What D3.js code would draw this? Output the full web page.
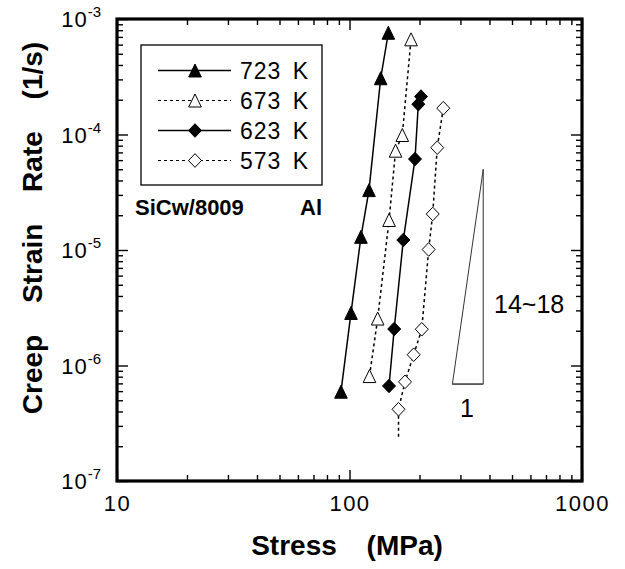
<!DOCTYPE html>
<html><head><meta charset="utf-8">
<script src="https://cdn.jsdelivr.net/npm/d3@7"></script>
<style>
body{margin:0;background:#fff;}
svg{display:block;font-family:"Liberation Sans",Arial,Helvetica,sans-serif;}
</style></head>
<body>
<svg id="chart" width="625" height="569"></svg>
<script>
// ---- data ----
const seriesNames = ["723 K", "673 K", "623 K", "573 K"];
const stress723 = [91.9, 101.5, 112, 121.3, 136.2, 146.9];
const rate723   = [5.93e-7, 2.85e-6, 1.30e-5, 3.30e-5, 3.07e-4, 7.6e-4];
const stress673 = [121.9, 132.2, 148, 157.8, 168.7, 183.9];
const rate673   = [8.1e-7, 2.55e-6, 1.82e-5, 7.24e-5, 9.9e-5, 6.67e-4];
const stress623 = [147.9, 155.7, 170.4, 191.3, 197.7, 203];
const rate623   = [6.65e-7, 2.07e-6, 1.22e-5, 6.13e-5, 1.83e-4, 2.13e-4];
const stress573 = [162.5, 173.3, 188.8, 204.6, 219, 228, 238.4, 253.2];
const rate573   = [4.18e-7, 7.22e-7, 1.24e-6, 2.06e-6, 1.01e-5, 2.05e-5, 7.69e-5, 1.69e-4];
const line573StartStress = [162.5];
const line573StartRate = [2.42e-7];
const slopeStress = [277, 376];
const slopeRate = [6.9e-7, 5.0e-5];
const xTicksMajor = [10, 100, 1000];
const yTicksMajor = [1e-7, 1e-6, 1e-5, 1e-4, 1e-3];
const yTickExponents = ["-7", "-6", "-5", "-4", "-3"];

const svg = d3.select("#chart");
const L = 117, R = 582, T = 19, B = 481;
const x = d3.scaleLog().domain([10, 1000]).range([L, R]);
const y = d3.scaleLog().domain([1e-7, 1e-3]).range([B, T]);

const minorX = x.ticks().filter(v => !xTicksMajor.includes(v));
const minorY = y.ticks().filter(v => !yTicksMajor.some(m => Math.abs(m - v) / v < 1e-6));

function styleAxis(g) {
  g.select(".domain").remove();
  g.selectAll(".tick line").attr("stroke", "#000").attr("stroke-width", 1.4);
}
// bottom
svg.append("g").attr("transform", `translate(0,${B})`)
  .call(d3.axisBottom(x).tickValues(minorX).tickSize(-6).tickFormat("")).call(styleAxis);
svg.append("g").attr("transform", `translate(0,${B})`)
  .call(d3.axisBottom(x).tickValues(xTicksMajor).tickSize(-11).tickPadding(14).tickFormat(d3.format("d")))
  .call(styleAxis)
  .call(g => g.selectAll(".tick text").attr("font-size", 22).attr("letter-spacing", 1.5).attr("fill", "#000")
     .attr("font-family", "Liberation Sans, Arial, sans-serif"));
// top
svg.append("g").attr("transform", `translate(0,${T})`)
  .call(d3.axisTop(x).tickValues(minorX).tickSize(-6).tickFormat("")).call(styleAxis);
svg.append("g").attr("transform", `translate(0,${T})`)
  .call(d3.axisTop(x).tickValues(xTicksMajor).tickSize(-11).tickFormat("")).call(styleAxis);
// left
svg.append("g").attr("transform", `translate(${L},0)`)
  .call(d3.axisLeft(y).tickValues(minorY).tickSize(-6).tickFormat("")).call(styleAxis);
svg.append("g").attr("transform", `translate(${L},0)`)
  .call(d3.axisLeft(y).tickValues(yTicksMajor).tickSize(-11).tickFormat("")).call(styleAxis);
// right
svg.append("g").attr("transform", `translate(${R},0)`)
  .call(d3.axisRight(y).tickValues(minorY).tickSize(-6).tickFormat("")).call(styleAxis);
svg.append("g").attr("transform", `translate(${R},0)`)
  .call(d3.axisRight(y).tickValues(yTicksMajor).tickSize(-11).tickFormat("")).call(styleAxis);

// frame
svg.append("rect").attr("x", L).attr("y", T).attr("width", R - L).attr("height", B - T)
  .attr("fill", "none").attr("stroke", "#000").attr("stroke-width", 3.2);

// y tick labels
yTicksMajor.forEach((v, i) => {
  const t = svg.append("text").attr("x", 101).attr("y", y(v) + 8)
    .attr("text-anchor", "end").attr("font-size", 22).attr("letter-spacing", 1).attr("fill", "#000");
  t.append("tspan").text("10");
  t.append("tspan").attr("dy", -10).attr("font-size", 15).attr("letter-spacing", 0).text(yTickExponents[i]);
});

// axis titles
svg.append("text").attr("x", 347).attr("y", 555).attr("text-anchor", "middle")
  .attr("font-size", 28).attr("font-weight", "bold").attr("word-spacing", 22).text("Stress (MPa)");
svg.append("text").attr("transform", "translate(42,228) rotate(-90)").attr("text-anchor", "middle")
  .attr("font-size", 28).attr("font-weight", "bold").attr("word-spacing", 24).text("Creep Strain Rate (1/s)");

// symbols
const triType = { draw(ctx, s) { const w = 6.3, h = 6.5; ctx.moveTo(0, -h); ctx.lineTo(w, h); ctx.lineTo(-w, h); ctx.closePath(); } };
const diaType = { draw(ctx, s) { const w = 6.5, h = 6.8; ctx.moveTo(0, -h); ctx.lineTo(w, 0); ctx.lineTo(0, h); ctx.lineTo(-w, 0); ctx.closePath(); } };
const triPath = d3.symbol().type(triType)();
const diaPath = d3.symbol().type(diaType)();

const series = [
  { name: seriesNames[0], xs: stress723, ys: rate723, sym: triPath, fill: "#000", dash: null },
  { name: seriesNames[1], xs: stress673, ys: rate673, sym: triPath, fill: "#fff", dash: "3,3" },
  { name: seriesNames[2], xs: stress623, ys: rate623, sym: diaPath, fill: "#000", dash: null },
  { name: seriesNames[3], xs: stress573, ys: rate573, sym: diaPath, fill: "#fff", dash: "3,3",
    lineXs: line573StartStress.concat(stress573), lineYs: line573StartRate.concat(rate573) }
];

const line = d3.line().x(d => x(d[0])).y(d => y(d[1]));
const plot = svg.append("g");
series.forEach(s => {
  const lx = s.lineXs || s.xs, ly = s.lineYs || s.ys;
  plot.append("path").datum(lx.map((v, i) => [v, ly[i]]))
    .attr("d", line).attr("fill", "none").attr("stroke", "#000")
    .attr("stroke-width", s.dash ? 1.5 : 1.5).attr("stroke-dasharray", s.dash);
});
series.forEach(s => {
  plot.selectAll(null).data(s.xs.map((v, i) => [v, s.ys[i]])).enter().append("path")
    .attr("d", s.sym).attr("transform", d => `translate(${x(d[0])},${y(d[1])})`)
    .attr("fill", s.fill).attr("stroke", "#000").attr("stroke-width", 1);
});

// slope triangle
svg.append("path")
  .attr("d", `M${x(slopeStress[0])},${y(slopeRate[0])}L${x(slopeStress[1])},${y(slopeRate[0])}L${x(slopeStress[1])},${y(slopeRate[1])}Z`)
  .attr("fill", "none").attr("stroke", "#333").attr("stroke-width", 1);
svg.append("line").attr("x1", x(slopeStress[0])).attr("x2", x(slopeStress[1]))
  .attr("y1", y(slopeRate[0])).attr("y2", y(slopeRate[0])).attr("stroke", "#555").attr("stroke-width", 1.6);
svg.append("text").attr("x", 494).attr("y", 313).attr("font-size", 25).text("14~18");
svg.append("text").attr("x", 467).attr("y", 417).attr("text-anchor", "middle").attr("font-size", 25).text("1");

// material label
const ml = svg.append("text").attr("x", 135).attr("y", 215).attr("font-size", 22).attr("font-weight", "bold");
ml.append("tspan").text("SiCw/8009 ");
ml.append("tspan").attr("x", 300).text("Al");

// legend
const lg = svg.append("g");
lg.append("rect").attr("x", 141).attr("y", 45).attr("width", 181).attr("height", 140)
  .attr("fill", "#fff").attr("stroke", "#000").attr("stroke-width", 1.3);
series.forEach((s, i) => {
  const ry = 70.5 + i * 30;
  lg.append("line").attr("x1", 158).attr("x2", 231).attr("y1", ry).attr("y2", ry)
    .attr("stroke", "#000").attr("stroke-width", s.dash ? 1 : 1.4).attr("stroke-dasharray", s.dash);
  lg.append("path").attr("d", s.sym).attr("transform", `translate(195,${ry})`)
    .attr("fill", s.fill).attr("stroke", "#000").attr("stroke-width", 1);
  const parts = s.name.split(" ");
  const t = lg.append("text").attr("x", 240).attr("y", ry + 8.5).attr("font-size", 23).attr("letter-spacing", 1);
  t.append("tspan").text(parts[0] + " ");
  t.append("tspan").attr("dx", 4).text(parts[1]);
});
</script>
</body></html>
